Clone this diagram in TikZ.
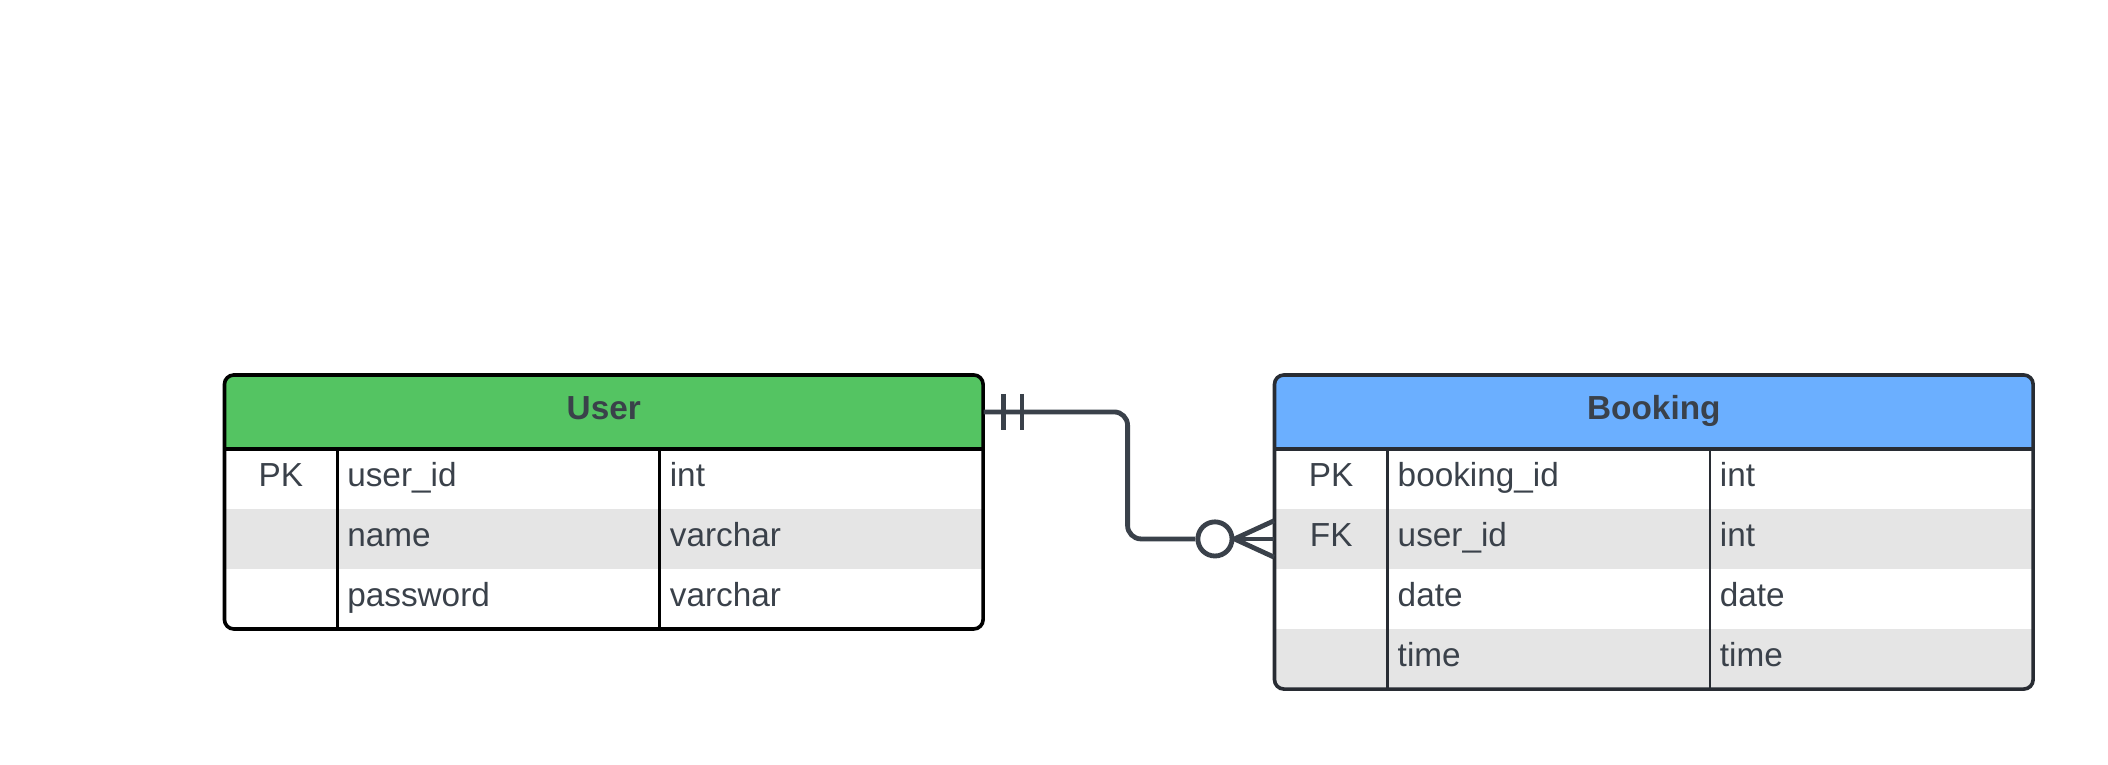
\documentclass[tikz,border=0pt]{standalone}
\usepackage{fontspec}
\setmainfont{Liberation Sans}
\usetikzlibrary{calc}
\definecolor{txt}{HTML}{3A414A}
\definecolor{ugreen}{HTML}{54C462}
\definecolor{bblue}{HTML}{6BAFFF}
\definecolor{rowgray}{HTML}{E5E5E5}
\definecolor{bline}{HTML}{282C33}
\definecolor{connc}{HTML}{3A414A}
\begin{document}
\begin{tikzpicture}[x=0.5pt,y=-0.5pt,
  font=\fontsize{12.4}{14}\selectfont,
  keytext/.style={text=txt,anchor=base,inner sep=0pt},
  celltext/.style={text=txt,anchor=base west,inner sep=0pt},
  hdrtext/.style={text=txt,anchor=base,inner sep=0pt,font=\fontsize{12.4}{14}\selectfont\bfseries},
  hdrbox/.style={rectangle,inner sep=0pt,minimum width=282.25pt,minimum height=27.5pt},
  rowbox/.style={rectangle,inner sep=0pt,minimum width=282.25pt,minimum height=22.33pt},
  frame/.style={rounded corners=3.5pt,line width=1.35pt},
  sep/.style={line width=1.35pt},
  colline/.style={line width=1.05pt},
  connline/.style={draw=connc,line width=1.8pt},
  zerocirc/.style={circle,draw=connc,line width=1.8pt,minimum size=12.7pt,inner sep=0pt,fill=white}
]
\useasboundingbox (0,0) rectangle (1568.5,569.2);

% ---------- User table ----------
\begin{scope}
  \clip[rounded corners=3.5pt] (167,279) rectangle (731.5,468);
  \fill[ugreen] (167,279) rectangle (731.5,334);
  \fill[rowgray] (167,378.67) rectangle (731.5,423.33);
\end{scope}
\draw[sep,black] (167,334) -- (731.5,334);
\draw[colline,black] (251.3,334) -- (251.3,468);
\draw[colline,black] (491,334) -- (491,468);
\draw[frame,black] (167,279) rectangle (731.5,468);
\node[hdrbox] (uhead) at (449.25,306.5) {};
\node[hdrtext] (utitle) at (449.25,312) {User};
\node[keytext] (uk1) at (209,362) {PK};
\node[celltext] (un1) at (258,362) {user\_id};
\node[celltext] (ut1) at (498,362) {int};
\node[celltext] (un2) at (258,406.7) {name};
\node[celltext] (ut2) at (498,406.7) {varchar};
\node[celltext] (un3) at (258,451.3) {password};
\node[celltext] (ut3) at (498,451.3) {varchar};

% ---------- Booking table ----------
\begin{scope}
  \clip[rounded corners=3.5pt] (948.3,279) rectangle (1512.8,512.7);
  \fill[bblue] (948.3,279) rectangle (1512.8,334);
  \fill[rowgray] (948.3,378.67) rectangle (1512.8,423.33);
  \fill[rowgray] (948.3,468) rectangle (1512.8,512.7);
\end{scope}
\draw[sep,bline] (948.3,334) -- (1512.8,334);
\draw[colline,bline] (1032.6,334) -- (1032.6,512.7);
\draw[colline,bline] (1272.3,334) -- (1272.3,512.7);
\draw[frame,bline] (948.3,279) rectangle (1512.8,512.7);
\node[hdrbox] (bhead) at (1230.55,306.5) {};
\node[rowbox] (bfk) at (1230.55,401) {};
\node[hdrtext] (btitle) at (1230.55,312) {Booking};
\node[keytext] (bk1) at (990.5,362) {PK};
\node[celltext] (bn1) at (1039.6,362) {booking\_id};
\node[celltext] (bt1) at (1279.3,362) {int};
\node[keytext] (bk2) at (990.5,406.7) {FK};
\node[celltext] (bn2) at (1039.6,406.7) {user\_id};
\node[celltext] (bt2) at (1279.3,406.7) {int};
\node[celltext] (bn3) at (1039.6,451.3) {date};
\node[celltext] (bt3) at (1279.3,451.3) {date};
\node[celltext] (bn4) at (1039.6,496) {time};
\node[celltext] (bt4) at (1279.3,496) {time};

% ---------- Relationship ----------
\coordinate (bend) at (839,0);
\node[zerocirc] (zc) at (904,401) {};
\draw[connline,rounded corners=5pt] (uhead.east) -- (uhead.east -| bend) -- (bend |- zc.west) -- (zc.west);
\draw[connline] ($(uhead.east)+(14.5,-13.5)$) -- ++(0,27);
\draw[connline] ($(uhead.east)+(28.5,-13.5)$) -- ++(0,27);
\draw[connline] (zc.east) -- (bfk.west);
\draw[connline] (zc.east) -- ($(bfk.west)+(0,-13.5)$);
\draw[connline] (zc.east) -- ($(bfk.west)+(0,13.5)$);
\end{tikzpicture}
\end{document}
